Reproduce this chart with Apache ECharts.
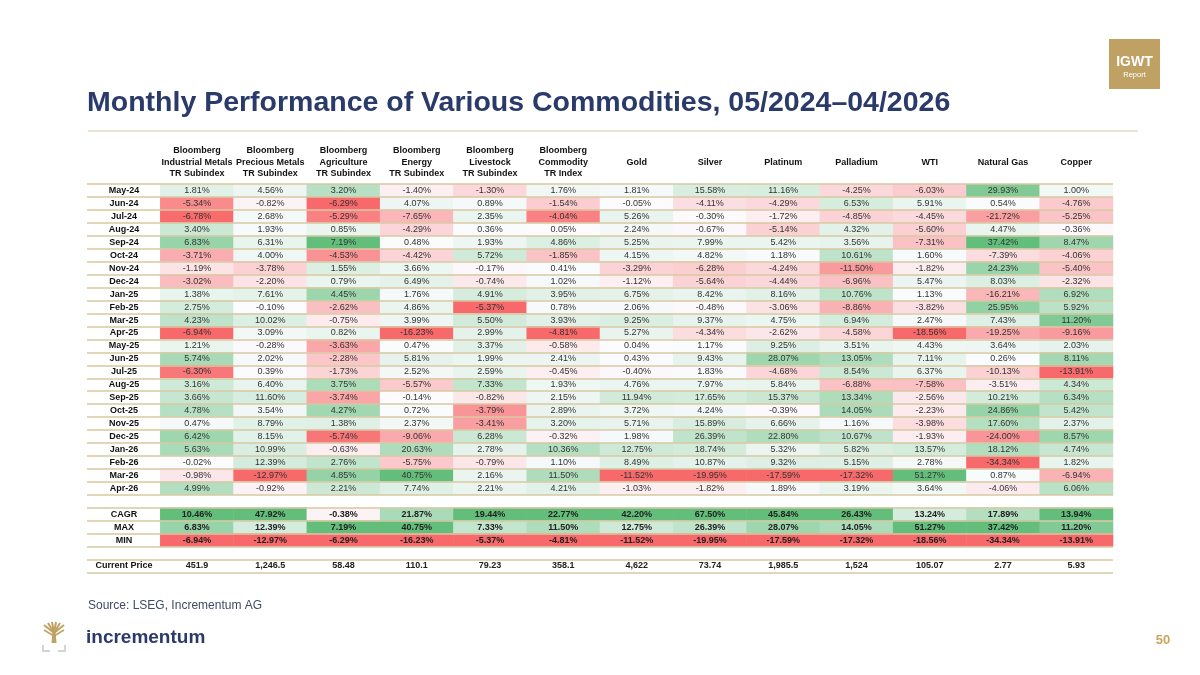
<!DOCTYPE html>
<html>
<head>
<meta charset="utf-8">
<script src="https://cdn.jsdelivr.net/npm/echarts@6/dist/echarts.min.js"></script>
<style>
  html, body { margin: 0; padding: 0; background: #fff; }
  #main { width: 1200px; height: 675px; }
</style>
</head>
<body>
<div id="main"></div>
<script>
// column headers (top axis), blank first slot is the row-label column
var columns = [
    '',
    'Bloomberg\nIndustrial Metals\nTR Subindex',
    'Bloomberg\nPrecious Metals\nTR Subindex',
    'Bloomberg\nAgriculture\nTR Subindex',
    'Bloomberg\nEnergy\nTR Subindex',
    'Bloomberg\nLivestock\nTR Subindex',
    'Bloomberg\nCommodity\nTR Index',
    '\nGold\n',
    '\nSilver\n',
    '\nPlatinum\n',
    '\nPalladium\n',
    '\nWTI\n',
    '\nNatural Gas\n',
    '\nCopper\n'
];

var months = ['May-24', 'Jun-24', 'Jul-24', 'Aug-24', 'Sep-24', 'Oct-24', 'Nov-24', 'Dec-24',
    'Jan-25', 'Feb-25', 'Mar-25', 'Apr-25', 'May-25', 'Jun-25', 'Jul-25', 'Aug-25',
    'Sep-25', 'Oct-25', 'Nov-25', 'Dec-25', 'Jan-26', 'Feb-26', 'Mar-26', 'Apr-26'];

// monthly returns in %, one row per month, columns as above
var monthlyReturns = [
    [1.81, 4.56, 3.20, -1.40, -1.30, 1.76, 1.81, 15.58, 11.16, -4.25, -6.03, 29.93, 1.00],
    [-5.34, -0.82, -6.29, 4.07, 0.89, -1.54, -0.05, -4.11, -4.29, 6.53, 5.91, 0.54, -4.76],
    [-6.78, 2.68, -5.29, -7.65, 2.35, -4.04, 5.26, -0.30, -1.72, -4.85, -4.45, -21.72, -5.25],
    [3.40, 1.93, 0.85, -4.29, 0.36, 0.05, 2.24, -0.67, -5.14, 4.32, -5.60, 4.47, -0.36],
    [6.83, 6.31, 7.19, 0.48, 1.93, 4.86, 5.25, 7.99, 5.42, 3.56, -7.31, 37.42, 8.47],
    [-3.71, 4.00, -4.53, -4.42, 5.72, -1.85, 4.15, 4.82, 1.18, 10.61, 1.60, -7.39, -4.06],
    [-1.19, -3.78, 1.55, 3.66, -0.17, 0.41, -3.29, -6.28, -4.24, -11.50, -1.82, 24.23, -5.40],
    [-3.02, -2.20, 0.79, 6.49, -0.74, 1.02, -1.12, -5.64, -4.44, -6.96, 5.47, 8.03, -2.32],
    [1.38, 7.61, 4.45, 1.76, 4.91, 3.95, 6.75, 8.42, 8.16, 10.76, 1.13, -16.21, 6.92],
    [2.75, -0.10, -2.62, 4.86, -5.37, 0.78, 2.06, -0.48, -3.06, -8.86, -3.82, 25.95, 5.92],
    [4.23, 10.02, -0.75, 3.99, 5.50, 3.93, 9.25, 9.37, 4.75, 6.94, 2.47, 7.43, 11.20],
    [-6.94, 3.09, 0.82, -16.23, 2.99, -4.81, 5.27, -4.34, -2.62, -4.58, -18.56, -19.25, -9.16],
    [1.21, -0.28, -3.63, 0.47, 3.37, -0.58, 0.04, 1.17, 9.25, 3.51, 4.43, 3.64, 2.03],
    [5.74, 2.02, -2.28, 5.81, 1.99, 2.41, 0.43, 9.43, 28.07, 13.05, 7.11, 0.26, 8.11],
    [-6.30, 0.39, -1.73, 2.52, 2.59, -0.45, -0.40, 1.83, -4.68, 8.54, 6.37, -10.13, -13.91],
    [3.16, 6.40, 3.75, -5.57, 7.33, 1.93, 4.76, 7.97, 5.84, -6.88, -7.58, -3.51, 4.34],
    [3.66, 11.60, -3.74, -0.14, -0.82, 2.15, 11.94, 17.65, 15.37, 13.34, -2.56, 10.21, 6.34],
    [4.78, 3.54, 4.27, 0.72, -3.79, 2.89, 3.72, 4.24, -0.39, 14.05, -2.23, 24.86, 5.42],
    [0.47, 8.79, 1.38, 2.37, -3.41, 3.20, 5.71, 15.89, 6.66, 1.16, -3.98, 17.60, 2.37],
    [6.42, 8.15, -5.74, -9.06, 6.28, -0.32, 1.98, 26.39, 22.80, 10.67, -1.93, -24.00, 8.57],
    [5.63, 10.99, -0.63, 20.63, 2.78, 10.36, 12.75, 18.74, 5.32, 5.82, 13.57, 18.12, 4.74],
    [-0.02, 12.39, 2.76, -5.75, -0.79, 1.10, 8.49, 10.87, 9.32, 5.15, 2.78, -34.34, 1.82],
    [-0.98, -12.97, 4.85, 40.75, 2.16, 11.50, -11.52, -19.95, -17.59, -17.32, 51.27, 0.87, -6.94],
    [4.99, -0.92, 2.21, 7.74, 2.21, 4.21, -1.03, -1.82, 1.89, 3.19, 3.64, -4.06, 6.06]
];

var cagr = [10.46, 47.92, -0.38, 21.87, 19.44, 22.77, 42.20, 67.50, 45.84, 26.43, 13.24, 17.89, 13.94];
var maxRow = [6.83, 12.39, 7.19, 40.75, 7.33, 11.50, 12.75, 26.39, 28.07, 14.05, 51.27, 37.42, 11.20];
var minRow = [-6.94, -12.97, -6.29, -16.23, -5.37, -4.81, -11.52, -19.95, -17.59, -17.32, -18.56, -34.34, -13.91];

var currentPrice = [451.9, 1246.5, 58.48, 110.1, 79.23, 358.1, 4622, 73.74, 1985.5, 1524, 105.07, 2.77, 5.93];
var priceDecimals = [1, 1, 2, 1, 2, 1, 0, 2, 1, 0, 2, 2, 2];

var summaryNames = ['CAGR', 'MAX', 'MIN'];
var summaryRows = [cagr, maxRow, minRow];

// y categories: months, gap, summary, gap, price
var rows = months.concat([''], summaryNames, [' '], ['Current Price']);

// per column red-white-green scale: column min -> red, 0 -> white, column max -> green
function columnScale(c) {
    var vals = monthlyReturns.map(function (r) { return r[c]; })
        .concat([cagr[c], maxRow[c], minRow[c]]);
    return { min: Math.min.apply(null, vals), max: Math.max.apply(null, vals) };
}
var scales = cagr.map(function (v, c) { return columnScale(c); });

function scalePos(v, c) {
    var s = scales[c];
    if (v <= 0) return s.min >= 0 ? 0.5 : 0.5 * (v - s.min) / (0 - s.min);
    return s.max <= 0 ? 0.5 : 0.5 + 0.5 * v / s.max;
}

var monthData = [];
monthlyReturns.forEach(function (r, i) {
    r.forEach(function (v, c) {
        monthData.push([c + 1, i, v, scalePos(v, c)]);
    });
});

var summaryData = [];
summaryRows.forEach(function (r, k) {
    r.forEach(function (v, c) {
        summaryData.push([c + 1, months.length + 1 + k, v, scalePos(v, c)]);
    });
});

var priceData = currentPrice.map(function (v, c) {
    return [c + 1, rows.length - 1, v, priceDecimals[c]];
});

function pct(p) {
    return p.value[2].toFixed(2) + '%';
}

var FONT = '"Liberation Sans", Arial, sans-serif';
var NAVY = '#2A3A6A';
var GOLD = '#BFA263';
var LINE = '#D8C9A2';

var myChart = echarts.init(document.getElementById('main'), null, { renderer: 'canvas' });

myChart.setOption({
    backgroundColor: '#ffffff',
    animation: false,
    textStyle: { fontFamily: FONT },
    grid: { left: 87, right: 87, top: 184.2, height: 388.2, containLabel: false },
    xAxis: {
        type: 'category',
        position: 'top',
        data: columns,
        axisLine: { show: false },
        axisTick: { show: false },
        splitLine: { show: false },
        axisLabel: {
            interval: 0,
            margin: 5,
            fontFamily: FONT,
            fontSize: 9,
            fontWeight: 'bold',
            lineHeight: 11.3,
            color: '#111'
        }
    },
    yAxis: {
        type: 'category',
        inverse: true,
        data: rows,
        z: 10,
        axisLine: { show: false },
        axisTick: { show: false },
        splitLine: { show: true, lineStyle: { color: LINE, width: 1.5 } },
        axisLabel: {
            inside: true,
            margin: 37,
            align: 'center',
            interval: 0,
            fontFamily: FONT,
            fontSize: 9,
            fontWeight: 'bold',
            color: '#111'
        }
    },
    visualMap: {
        show: false,
        type: 'continuous',
        seriesIndex: [0, 1],
        dimension: 3,
        min: 0,
        max: 1,
        inRange: { color: ['#F8696B', '#FCFCFF', '#63BE7B'] }
    },
    series: [
        {
            name: 'monthly',
            type: 'heatmap',
            data: monthData,
            label: { show: true, formatter: pct, fontFamily: FONT, fontSize: 9, color: '#333' },
            itemStyle: { borderWidth: 0 },
            emphasis: { disabled: true }
        },
        {
            name: 'summary',
            type: 'heatmap',
            data: summaryData,
            label: { show: true, formatter: pct, fontFamily: FONT, fontSize: 9, fontWeight: 'bold', color: '#222' },
            itemStyle: { borderWidth: 0 },
            emphasis: { disabled: true }
        },
        {
            name: 'price',
            type: 'heatmap',
            data: priceData,
            itemStyle: { color: '#ffffff', borderWidth: 0 },
            label: {
                show: true,
                fontFamily: FONT,
                fontSize: 9,
                fontWeight: 'bold',
                color: '#222',
                formatter: function (p) {
                    var d = p.value[3];
                    return p.value[2].toLocaleString('en-US', { minimumFractionDigits: d, maximumFractionDigits: d });
                }
            },
            emphasis: { disabled: true }
        }
    ],
    graphic: [
        {
            type: 'text', x: 87, y: 103,
            style: {
                text: 'Monthly Performance of Various Commodities, 05/2024\u201304/2026',
                font: 'bold 28.5px ' + FONT, fill: NAVY, textVerticalAlign: 'middle'
            }
        },
        {
            type: 'line',
            shape: { x1: 88, y1: 131, x2: 1138, y2: 131 },
            style: { stroke: LINE, lineWidth: 1 }
        },
        // IGWT badge
        { type: 'rect', shape: { x: 1109, y: 39, width: 51, height: 50 }, style: { fill: GOLD } },
        {
            type: 'text', x: 1134.5, y: 62,
            style: { text: 'IGWT', font: 'bold 14px ' + FONT, fill: '#fff', textAlign: 'center', textVerticalAlign: 'middle' }
        },
        {
            type: 'text', x: 1134.5, y: 75,
            style: { text: 'Report', font: '7.5px ' + FONT, fill: '#fff', textAlign: 'center', textVerticalAlign: 'middle' }
        },
        {
            type: 'text', x: 88, y: 606,
            style: { text: 'Source: LSEG, Incrementum AG', font: '12px ' + FONT, fill: '#3E4A68', textVerticalAlign: 'middle' }
        },
        // logo: tree mark
        { type: 'polygon', shape: { points: [[52.5, 631], [55.5, 631], [56.5, 643], [51.5, 643]] }, style: { fill: GOLD } },
        { type: 'polyline', shape: { points: [[54, 633], [44, 625]] }, style: { stroke: GOLD, lineWidth: 2 } },
        { type: 'polyline', shape: { points: [[54, 633], [48, 623]] }, style: { stroke: GOLD, lineWidth: 2 } },
        { type: 'polyline', shape: { points: [[54, 633], [52, 622]] }, style: { stroke: GOLD, lineWidth: 2 } },
        { type: 'polyline', shape: { points: [[54, 633], [56, 622]] }, style: { stroke: GOLD, lineWidth: 2 } },
        { type: 'polyline', shape: { points: [[54, 633], [60, 623]] }, style: { stroke: GOLD, lineWidth: 2 } },
        { type: 'polyline', shape: { points: [[54, 633], [64, 625]] }, style: { stroke: GOLD, lineWidth: 2 } },
        { type: 'polyline', shape: { points: [[54, 636], [44, 630]] }, style: { stroke: GOLD, lineWidth: 1.5 } },
        { type: 'polyline', shape: { points: [[54, 636], [64, 630]] }, style: { stroke: GOLD, lineWidth: 1.5 } },
        { type: 'polyline', shape: { points: [[43, 645], [43, 651], [50, 651]] }, style: { stroke: '#C8C8C8', lineWidth: 1.5, fill: null } },
        { type: 'polyline', shape: { points: [[58, 651], [65, 651], [65, 645]] }, style: { stroke: '#C8C8C8', lineWidth: 1.5, fill: null } },
        {
            type: 'text', x: 86, y: 638,
            style: { text: 'incrementum', font: 'bold 19px ' + FONT, fill: NAVY, textVerticalAlign: 'middle' }
        },
        {
            type: 'text', x: 1163, y: 640,
            style: { text: '50', font: 'bold 13px ' + FONT, fill: '#C9A55A', textAlign: 'center', textVerticalAlign: 'middle' }
        }
    ]
});
</script>
</body>
</html>
